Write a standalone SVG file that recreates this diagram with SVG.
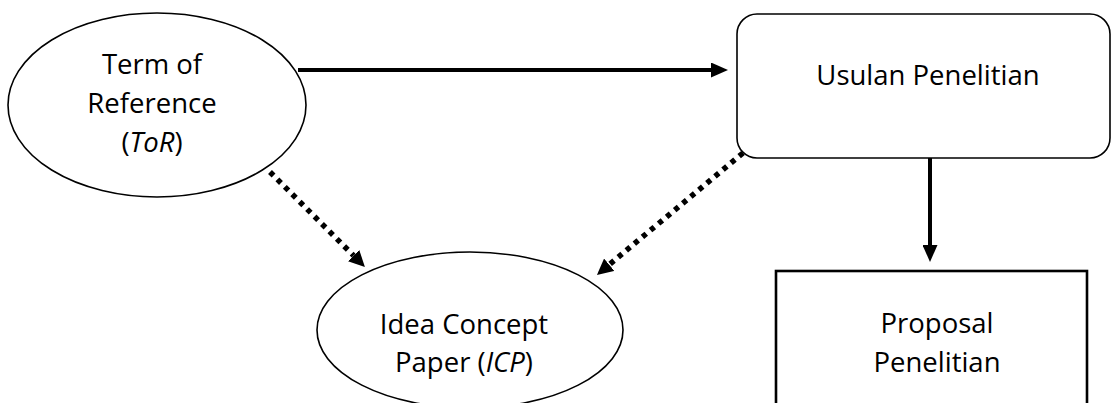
<svg xmlns="http://www.w3.org/2000/svg" width="1112" height="403" viewBox="0 0 1112 403">
<style>
.node{fill:#fff;stroke:#000;stroke-width:1.6}
.box{fill:#fff;stroke:#000;stroke-width:2.6}
.lbl{font-family:"Open Sans","Noto Sans",sans-serif;font-size:27.5px;fill:#000;text-anchor:middle}
.solid{stroke:#000;stroke-width:4;fill:none}
.dot{stroke:#000;stroke-width:5.5;fill:none;stroke-dasharray:5 5.5}
</style>
<defs>
<marker id="ah" markerUnits="userSpaceOnUse" markerWidth="17" markerHeight="15" refX="0" refY="7.5" orient="auto">
<path d="M0,0 L17,7.5 L0,15 z" fill="#000"/>
</marker>
<marker id="ahd" markerUnits="userSpaceOnUse" markerWidth="16" markerHeight="16" refX="0" refY="8" orient="auto">
<path d="M0,0 L16,8 L0,16 z" fill="#000"/>
</marker>
</defs>
<rect width="1112" height="403" fill="#fff"/>
<g id="connectors">
<line class="solid" x1="298" y1="70" x2="711" y2="70" marker-end="url(#ah)"/>
<line class="solid" x1="930" y1="158" x2="930" y2="245" marker-end="url(#ah)"/>
<line class="dot" x1="270" y1="172" x2="353.6" y2="255.6" marker-end="url(#ahd)"/>
<line class="dot" x1="743" y1="153" x2="609.2" y2="264.7" marker-end="url(#ahd)"/>
</g>
<g id="tor">
<ellipse class="node" cx="157" cy="105" rx="149" ry="92"/>
<text class="lbl" x="152" y="74">Term of</text>
<text class="lbl" x="152" y="113">Reference</text>
<text class="lbl" x="152" y="152">(<tspan font-style="italic">ToR</tspan>)</text>
</g>
<g id="usulan">
<rect class="node" x="737" y="14" width="373" height="144" rx="20" ry="20"/>
<text class="lbl" x="928" y="85">Usulan Penelitian</text>
</g>
<g id="icp">
<ellipse class="node" cx="470" cy="330" rx="153" ry="78"/>
<text class="lbl" x="464" y="334">Idea Concept</text>
<text class="lbl" x="464" y="372">Paper (<tspan font-style="italic">ICP</tspan>)</text>
</g>
<g id="proposal">
<rect class="box" x="776" y="271" width="311" height="140"/>
<text class="lbl" x="937" y="333">Proposal</text>
<text class="lbl" x="937" y="372">Penelitian</text>
</g>
</svg>
